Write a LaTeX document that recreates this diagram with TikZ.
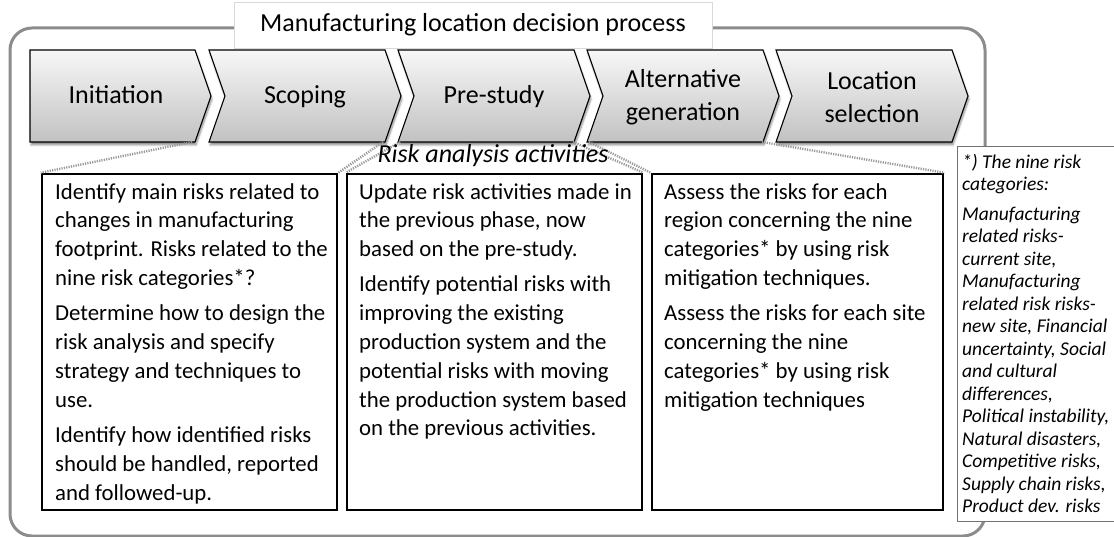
\documentclass[tikz,border=0pt]{standalone}
\usepackage{fontspec}
\setmainfont{Carlito}
\usetikzlibrary{shadows.blur}
\begin{document}
\begin{tikzpicture}[x=1pt,y=-1pt,
  frame/.style={draw=black!45, line width=3pt, rounded corners=22pt},
  titlebox/.style={draw=black!15, line width=0.8pt, fill=white, minimum width=478pt, minimum height=46pt, inner sep=0pt, font=\fontsize{26}{30}\selectfont},
  phase/.style={draw=black, line width=1.1pt, top color=black!3, bottom color=black!24,
    blur shadow={shadow xshift=1pt, shadow yshift=-3pt, shadow blur steps=6, shadow opacity=45}},
  phaselabel/.style={align=center, inner sep=0pt, font=\fontsize{26}{33}\selectfont},
  activity/.style={draw=black, line width=2.6pt, fill=white, inner sep=0pt, minimum height=336pt},
  actext/.style={anchor=north west, align=left, inner sep=0pt, font=\fontsize{22.8}{28.8}\selectfont},
  callout/.style={draw=black!40, line width=2.4pt, dash pattern=on 1.2pt off 1.2pt},
  notebox/.style={draw=black!55, line width=0.8pt, fill=white, inner sep=0pt, minimum width=163pt, minimum height=375pt},
  notetext/.style={anchor=north west, align=left, inner sep=0pt, font=\fontsize{19.5}{22.5}\itshape\selectfont}
]
\useasboundingbox (0,0) rectangle (1114,537);

% outer frame of the decision process
\draw[frame] (10,28) rectangle (985,536);
\node[titlebox] (title) at (473,25) {Manufacturing location decision process};

% footnote listing the risk categories
\node[notebox] (note) at (1038.5,333.5) {};

% process phases
\path[phase] (30,50) -- (195,50) -- (211,96) -- (195,142) -- (30,142) -- cycle;
\path[phase] (209,50) -- (385,50) -- (401,96) -- (385,142) -- (209,142) -- (225,96) -- cycle;
\path[phase] (398,50) -- (574,50) -- (590,96) -- (574,142) -- (398,142) -- (414,96) -- cycle;
\path[phase] (587,50) -- (763,50) -- (779,96) -- (763,142) -- (587,142) -- (603,96) -- cycle;
\path[phase] (776,50) -- (952,50) -- (968,96) -- (952,142) -- (776,142) -- (792,96) -- cycle;

\coordinate (ini-br) at (192,142);
\coordinate (sco-br) at (383,142);
\coordinate (pre-bl) at (400,142);
\coordinate (pre-br) at (573,142);
\coordinate (alt-bl) at (589,142);
\coordinate (alt-br) at (762,142);

\node[phaselabel, anchor=base] (ini) at (116,104) {Initiation};
\node[phaselabel, anchor=base] (sco) at (305,104) {Scoping};
\node[phaselabel, anchor=base] (pre) at (494,104) {Pre-study};
\node[phaselabel] (alt) at (683,97) {Alternative\\generation};
\node[phaselabel] (loc) at (872,97) {Location\\selection};

% activity boxes
\node[activity, minimum width=295pt] (box1) at (189.5,342) {};
\node[activity, minimum width=295pt] (box2) at (494.5,342) {};
\node[activity, minimum width=291pt] (box3) at (797.5,342) {};

% callout lines from the phases to their activities
\draw[callout] (ini-br) -- (box1.north west);
\draw[callout] (sco-br) -- (box1.north east);
\draw[callout] (pre-bl) -- (box2.north west);
\draw[callout] (pre-br) -- (box2.north east);
\draw[callout] (alt-bl) -- (box3.north west);
\draw[callout] (alt-br) -- (box3.north east);

\node[inner sep=0pt, font=\fontsize{26}{30}\itshape\selectfont] (head) at (493,156) {Risk analysis activities};

\node[actext] (t1) at (55,183) {Identify main risks related to\\changes in manufacturing\\footprint. Risks related to the\\nine risk categories*?\\[6.5pt]Determine how to design the\\risk analysis and specify\\strategy and techniques to\\use.\\[6.5pt]Identify how identified risks\\should be handled, reported\\and followed-up.};
\node[actext] (t2) at (359,183) {Update risk activities made in\\the previous phase, now\\based on the pre-study.\\[6.5pt]Identify potential risks with\\improving the existing\\production system and the\\potential risks with moving\\the production system based\\on the previous activities.};
\node[actext] (t3) at (664,183) {Assess the risks for each\\region concerning the nine\\categories* by using risk\\mitigation techniques.\\[6.5pt]Assess the risks for each site\\concerning the nine\\categories* by using risk\\mitigation techniques};

\node[notetext] (nt) at (962,154) {*) The nine risk\\categories:\\[7pt]Manufacturing\\related risks-\\current site,\\Manufacturing\\related risk risks-\\new site, Financial\\uncertainty, Social\\and cultural\\differences,\\Political instability,\\Natural disasters,\\Competitive risks,\\Supply chain risks,\\Product dev. risks};
\end{tikzpicture}
\end{document}
